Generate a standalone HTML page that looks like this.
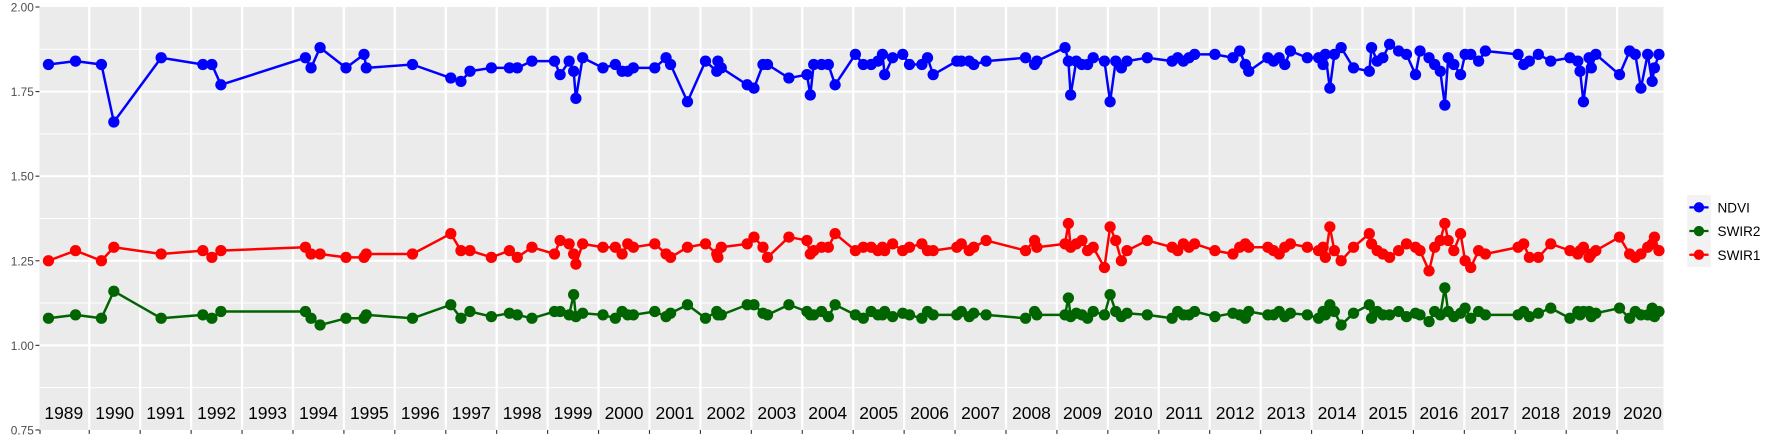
<!DOCTYPE html>
<html><head><meta charset="utf-8"><style>
html,body{margin:0;padding:0;background:#fff;width:1773px;height:442px;overflow:hidden}
svg{display:block}
text{font-family:"Liberation Sans",sans-serif}
</style></head><body>
<svg id="s" width="1773" height="442" viewBox="0 0 1573.2 392.2" preserveAspectRatio="none" xmlns="http://www.w3.org/2000/svg">
<rect x="35" y="6.2" width="1441" height="375.3" fill="#ebebeb"/>
<g id="grid"></g>
<g id="series"></g>
<g id="axes"></g>
<g id="legend">
<rect x="1497" y="173" width="21" height="64" fill="#f2f2f2"/>
<line x1="1499" y1="184" x2="1516" y2="184" stroke="#0000ff" stroke-width="2"/><circle cx="1507.5" cy="184" r="4.6" fill="#0000ff"/>
<line x1="1499" y1="205" x2="1516" y2="205" stroke="#006400" stroke-width="2"/><circle cx="1507.5" cy="205" r="4.6" fill="#006400"/>
<line x1="1499" y1="226" x2="1516" y2="226" stroke="#ff0000" stroke-width="2"/><circle cx="1507.5" cy="226" r="4.6" fill="#ff0000"/>
<text x="1524" y="188.5" font-size="12" fill="#000">NDVI</text>
<text x="1524" y="209.5" font-size="12" fill="#000">SWIR2</text>
<text x="1524" y="230.5" font-size="12" fill="#000">SWIR1</text>
</g>
</svg>
<script>
const NS="http://www.w3.org/2000/svg";
function el(p,t,a,txt){const e=document.createElementNS(NS,t);for(const k in a)e.setAttribute(k,a[k]);if(txt!==undefined)e.textContent=txt;p.appendChild(e);return e;}
const Y=v=>6.2+(2-v)*300.24;
const grid=document.getElementById('grid'),axes=document.getElementById('axes'),ser=document.getElementById('series');
[0.875,1.125,1.375,1.625,1.875].forEach(v=>el(grid,'line',{x1:35,x2:1476,y1:Y(v),y2:Y(v),stroke:'#fff','stroke-width':0.9}));
[1.0,1.25,1.5,1.75].forEach(v=>el(grid,'line',{x1:35,x2:1476,y1:Y(v),y2:Y(v),stroke:'#fff','stroke-width':1.8}));
for(let i=0;i<31;i++){const x=79.2+i*45.19;el(grid,'line',{x1:x,x2:x,y1:6.2,y2:381.5,stroke:'#fff','stroke-width':2});}
for(let i=0;i<32;i++){const x=56.6+i*45.19;el(axes,'text',{x:x,y:372,'font-size':15.5,'text-anchor':'middle',fill:'#000'},String(1989+i));}
for(let i=-1;i<31;i++){const x=i<0?35.5:79.2+i*45.19;el(axes,'line',{x1:x,x2:x,y1:381.5,y2:385,stroke:'#333','stroke-width':1});}
[[2,'2.00'],[1.75,'1.75'],[1.5,'1.50'],[1.25,'1.25'],[1,'1.00'],[0.75,'0.75']].forEach(([v,t])=>{el(axes,'line',{x1:31.5,x2:35,y1:Y(v),y2:Y(v),stroke:'#333','stroke-width':1});el(axes,'text',{x:30,y:Y(v)+4,'font-size':10.5,'text-anchor':'end',fill:'#4d4d4d'},t);});
const N=[[43,1.83],[67,1.84],[90,1.83],[101,1.66],[143,1.85],[180,1.83],[188,1.83],[196,1.77],[271,1.85],[276,1.82],[284,1.88],[307,1.82],[323,1.86],[325,1.82],[366,1.83],[400,1.79],[409,1.78],[417,1.81],[436,1.82],[452,1.82],[459,1.82],[472,1.84],[492,1.84],[497,1.80],[505,1.84],[509,1.81],[511,1.73],[517,1.85],[535,1.82],[546,1.83],[552,1.81],[557,1.81],[562,1.82],[581,1.82],[591,1.85],[595,1.83],[610,1.72],[626,1.84],[636,1.81],[637,1.84],[640,1.82],[663,1.77],[669,1.76],[677,1.83],[681,1.83],[700,1.79],[716,1.80],[719,1.74],[722,1.83],[729,1.83],[735,1.83],[741,1.77],[759,1.86],[766,1.83],[773,1.83],[779,1.84],[783,1.86],[785,1.80],[792,1.85],[801,1.86],[807,1.83],[818,1.83],[823,1.85],[828,1.80],[849,1.84],[853,1.84],[860,1.84],[864,1.83],[875,1.84],[910,1.85],[918,1.83],[920,1.84],[945,1.88],[948,1.84],[950,1.74],[955,1.84],[960,1.83],[965,1.83],[970,1.85],[980,1.84],[985,1.72],[990,1.84],[995,1.82],[1000,1.84],[1018,1.85],[1040,1.84],[1045,1.85],[1050,1.84],[1055,1.85],[1060,1.86],[1078,1.86],[1094,1.85],[1100,1.87],[1105,1.83],[1108,1.81],[1125,1.85],[1130,1.84],[1135,1.85],[1140,1.83],[1145,1.87],[1160,1.85],[1170,1.85],[1174,1.83],[1176,1.86],[1180,1.76],[1184,1.86],[1190,1.88],[1201,1.82],[1215,1.81],[1217,1.88],[1222,1.84],[1227,1.85],[1233,1.89],[1241,1.87],[1248,1.86],[1256,1.80],[1260,1.87],[1268,1.85],[1273,1.83],[1278,1.81],[1282,1.71],[1285,1.85],[1290,1.83],[1296,1.80],[1300,1.86],[1305,1.86],[1312,1.84],[1318,1.87],[1347,1.86],[1352,1.83],[1357,1.84],[1365,1.86],[1376,1.84],[1393,1.85],[1400,1.84],[1402,1.81],[1405,1.72],[1410,1.85],[1412,1.82],[1416,1.86],[1437,1.80],[1446,1.87],[1451,1.86],[1456,1.76],[1462,1.86],[1466,1.78],[1468,1.82],[1472,1.86]];
const R=[1.25,1.28,1.25,1.29,1.27,1.28,1.26,1.28,1.29,1.27,1.27,1.26,1.26,1.27,1.27,1.33,1.28,1.28,1.26,1.28,1.26,1.29,1.27,1.31,1.30,1.27,1.24,1.30,1.29,1.29,1.27,1.30,1.29,1.30,1.27,1.26,1.29,1.30,1.27,1.26,1.29,1.30,1.32,1.29,1.26,1.32,1.31,1.27,1.28,1.29,1.29,1.33,1.28,1.29,1.29,1.28,1.29,1.28,1.30,1.28,1.29,1.30,1.28,1.28,1.29,1.30,1.28,1.29,1.31,1.28,1.31,1.29,1.30,1.36,1.29,1.30,1.31,1.28,1.29,1.23,1.35,1.31,1.25,1.28,1.31,1.29,1.28,1.30,1.29,1.30,1.28,1.27,1.29,1.30,1.29,1.29,1.28,1.27,1.29,1.30,1.29,1.28,1.29,1.26,1.35,1.28,1.25,1.29,1.33,1.30,1.28,1.27,1.26,1.28,1.30,1.29,1.28,1.22,1.29,1.31,1.36,1.31,1.28,1.33,1.25,1.23,1.28,1.27,1.29,1.30,1.26,1.26,1.30,1.28,1.27,1.28,1.29,1.26,1.27,1.28,1.32,1.27,1.26,1.27,1.29,1.30,1.32,1.28];
const gOver={43:1.08,67:1.09,90:1.08,101:1.16,143:1.08,180:1.09,188:1.08,196:1.10,271:1.10,276:1.08,284:1.06,307:1.08,323:1.08,325:1.09,366:1.08,400:1.12,409:1.08,417:1.10,497:1.10,509:1.15,610:1.12,663:1.12,669:1.12,700:1.12,741:1.12,948:1.14,985:1.15,1180:1.12,1190:1.06,1215:1.12,1282:1.17,1268:1.07,1300:1.11,1305:1.08,1376:1.11,1405:1.10,1437:1.11,1466:1.11,1472:1.10};
const pat=[1.09,1.10,1.085,1.095,1.09,1.08,1.10,1.09];
const G=N.map((p,i)=>gOver[p[0]]!==undefined?gOver[p[0]]:pat[i%pat.length]);
function draw(vals,col){const pts=N.map((p,i)=>[p[0],Y(vals[i])]);
el(ser,'polyline',{points:pts.map(p=>p.join(',')).join(' '),fill:'none',stroke:col,'stroke-width':2.2,'stroke-linejoin':'round'});
pts.forEach(p=>el(ser,'circle',{cx:p[0],cy:p[1],r:5,fill:col}));}
draw(N.map(p=>p[1]),'#0000ff');draw(G,'#006400');draw(R,'#ff0000');
</script>
</body></html>
